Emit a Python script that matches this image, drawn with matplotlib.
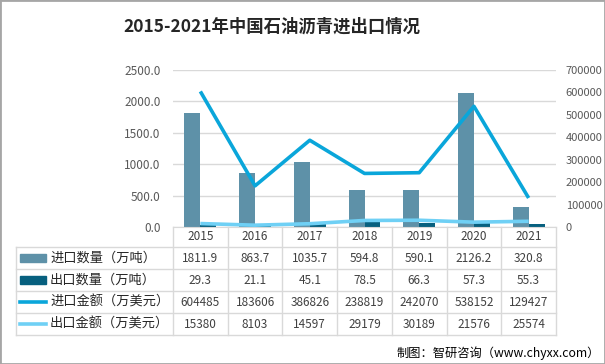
import numpy as np
import matplotlib
matplotlib.use('Agg')
import matplotlib.pyplot as plt
from matplotlib.patches import Rectangle

plt.rcParams['font.family'] = ['Noto Sans CJK SC', 'DejaVu Sans']

years = ['2015', '2016', '2017', '2018', '2019', '2020', '2021']
import_qty = [1811.9, 863.7, 1035.7, 594.8, 590.1, 2126.2, 320.8]
export_qty = [29.3, 21.1, 45.1, 78.5, 66.3, 57.3, 55.3]
import_val = [604485, 183606, 386826, 238819, 242070, 538152, 129427]
export_val = [15380, 8103, 14597, 29179, 30189, 21576, 25574]
row_names = ['进口数量（万吨）', '出口数量（万吨）', '进口金额（万美元）', '出口金额（万美元）']

c_imp_q = '#5e91a8'
c_exp_q = '#07607f'
c_imp_v = '#0aa6da'
c_exp_v = '#6fd0f5'
grid_c = '#d9d9d9'
txt_c = '#404040'

W, H = 605, 364
fig = plt.figure(figsize=(W / 100, H / 100), dpi=100)
fig.patch.set_facecolor('white')


def box(l, t, r, b):
    return [l / W, 1 - b / H, (r - l) / W, (b - t) / H]


x = np.arange(len(years))
bw = 0.29

# main chart
ax = fig.add_axes(box(173, 70, 556, 227))
ax.bar(x - bw / 2, import_qty, bw, color=c_imp_q, zorder=2)
ax.bar(x + bw / 2, export_qty, bw, color=c_exp_q, zorder=2)
ax.set_xlim(-0.5, len(years) - 0.5)
ax.set_ylim(0, 2500)
ax.set_yticks(np.arange(0, 2501, 500))
ax.set_yticklabels(['%.1f' % v for v in np.arange(0, 2501, 500)])
ax.tick_params(axis='y', length=0, pad=9, labelsize=8.5, labelcolor='#595959')
ax.set_xticks([])
ax.grid(axis='y', color=grid_c, lw=1, zorder=0)
for s in ['left', 'right', 'top']:
    ax.spines[s].set_visible(False)
ax.spines['bottom'].set_color(grid_c)

ax2 = ax.twinx()
ax2.plot(x, import_val, color=c_imp_v, lw=2.6, solid_capstyle='butt')
ax2.plot(x, export_val, color=c_exp_v, lw=2.6, solid_capstyle='butt')
ax2.set_ylim(0, 700000)
ax2.set_yticks(np.arange(0, 700001, 100000))
ax2.tick_params(axis='y', length=0, pad=7, labelsize=8, labelcolor='#595959')
for s in ['left', 'right', 'top', 'bottom']:
    ax2.spines[s].set_visible(False)

# data table under the chart
unit = (556 - 173) / len(years)
left_edge = -0.5 - (173 - 16) / unit
tab = fig.add_axes(box(16, 227, 556, 335))
tab.set_xlim(left_edge, len(years) - 0.5)
tab.set_ylim(335, 227)
tab.axis('off')
edges = [227, 247, 269, 291, 313, 335]
for e in edges[1:]:
    tab.plot([left_edge, len(years) - 0.5], [e, e], color=grid_c, lw=1, clip_on=False)
tab.plot([left_edge, left_edge], [edges[1], edges[-1]], color=grid_c, lw=1, clip_on=False)
for k in range(len(years) + 1):
    tab.plot([k - 0.5, k - 0.5], [edges[0], edges[-1]], color=grid_c, lw=1, clip_on=False)

rows = [years,
        ['%.1f' % v for v in import_qty],
        ['%.1f' % v for v in export_qty],
        [str(v) for v in import_val],
        [str(v) for v in export_val]]
for r, vals in enumerate(rows):
    yc = (edges[r] + edges[r + 1]) / 2
    for i, v in enumerate(vals):
        tab.text(i, yc, v, ha='center', va='center', fontsize=8.5, color=txt_c)

# row labels with legend keys
key_l = left_edge + 4 / unit
key_r = left_edge + 30 / unit
styles = [('bar', c_imp_q), ('bar', c_exp_q), ('line', c_imp_v), ('line', c_exp_v)]
for r, (name, (kind, col)) in enumerate(zip(row_names, styles)):
    yc = (edges[r + 1] + edges[r + 2]) / 2
    if kind == 'bar':
        tab.add_patch(Rectangle((key_l, yc - 4), key_r - key_l, 8, color=col, clip_on=False))
    else:
        tab.plot([key_l, key_r], [yc, yc], color=col, lw=2.6, clip_on=False)
    tab.text(left_edge + 34 / unit, yc, name, ha='left', va='center', fontsize=9.5, color='#262626')

fig.text(272 / W, 1 - 27 / H, '2015-2021年中国石油沥青进出口情况', ha='center', va='center',
         fontsize=12.5, fontweight='bold', color='#262626')
fig.text(600 / W, 1 - 353 / H, '制图：智研咨询（www.chyxx.com）', ha='right', va='center',
         fontsize=8.8, color='#000000')

fig.add_artist(Rectangle((0, 0), 1, 1, transform=fig.transFigure, fill=False,
                         edgecolor='#a6a6a6', lw=2))

fig.savefig('out.png', dpi=100)
